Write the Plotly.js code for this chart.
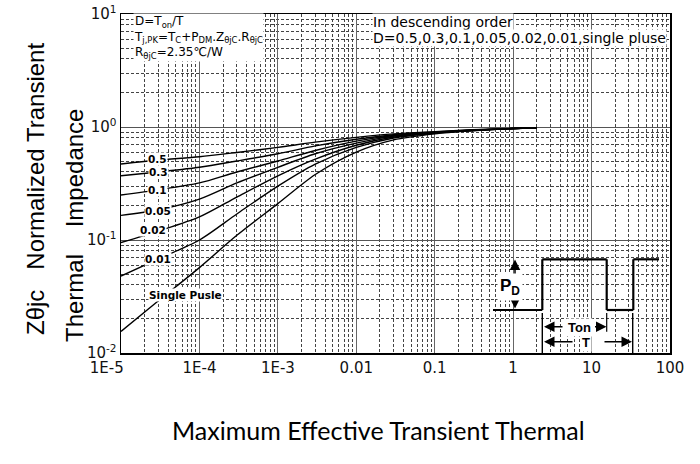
<!DOCTYPE html>
<html><head><meta charset="utf-8">
<script src="https://cdn.plot.ly/plotly-3.0.1.min.js"></script>
<style>html,body{margin:0;padding:0;background:#fff}#chart{width:700px;height:464px}</style>
</head><body><div id="chart"></div>
<script>
// ---- data ----
const pulseTime = [1e-5, 3e-5, 1e-4, 3e-4, 1e-3, 3e-3, 1e-2, 3e-2, 1e-1, 3e-1, 1, 2];
const dutyLabels = ['0.5', '0.3', '0.1', '0.05', '0.02', '0.01', 'Single Pusle'];
const zD050 = [0.47, 0.51, 0.545, 0.595, 0.66, 0.735, 0.81, 0.87, 0.91, 0.945, 0.97, 0.985];
const zD030 = [0.37, 0.40, 0.44, 0.50, 0.58, 0.68, 0.78, 0.855, 0.905, 0.94, 0.97, 0.985];
const zD010 = [0.25, 0.278, 0.32, 0.40, 0.50, 0.62, 0.75, 0.84, 0.895, 0.935, 0.97, 0.985];
const zD005 = [0.165, 0.185, 0.23, 0.32, 0.44, 0.58, 0.72, 0.83, 0.89, 0.935, 0.97, 0.985];
const zD002 = [0.095, 0.12, 0.16, 0.24, 0.37, 0.52, 0.69, 0.815, 0.885, 0.93, 0.97, 0.985];
const zD001 = [0.048, 0.068, 0.10, 0.17, 0.30, 0.47, 0.66, 0.80, 0.88, 0.93, 0.97, 0.985];
const zSingle = [0.0155, 0.029, 0.057, 0.11, 0.21, 0.38, 0.60, 0.77, 0.87, 0.925, 0.97, 0.985];
const xTickVals = [1e-5, 1e-4, 1e-3, 1e-2, 1e-1, 1, 10, 100];
const xTickText = ['1E-5\u00a0\u00a0\u00a0\u00a0\u00a0\u00a0', '1E-4', '1E-3', '0.01', '0.1', '1', '10', '100'];
const yTickVals = [0.01, 0.1, 1, 10];
const yTickText = ['10<sup>-2</sup>', '10<sup>-1</sup>', '10<sup>0</sup>', '10<sup>1</sup>'];

const series = [zD050, zD030, zD010, zD005, zD002, zD001, zSingle];

// label positions in log10 axis units
const labelPos = [[-4.53, -0.286], [-4.524, -0.396], [-4.53, -0.558], [-4.524, -0.741],
                  [-4.588, -0.912], [-4.524, -1.168], [-4.184, -1.487]];

// minor grid positions (2..9 in every decade)
const minorX = [], minorY = [];
for (let e = -5; e < 2; e++) for (let d = 2; d <= 9; d++) minorX.push(d * Math.pow(10, e));
for (let e = -2; e < 1; e++) for (let d = 2; d <= 9; d++) minorY.push(d * Math.pow(10, e));

const traces = series.map((ys, i) => ({
  x: pulseTime, y: ys, type: 'scatter', mode: 'lines',
  line: {color: '#000', width: 1.4, shape: 'spline', smoothing: 0.8},
  hoverinfo: 'skip', showlegend: false
}));

// plot area in pixels: x 121..670, y 14..353
const PX = px => (px - 121) / 549;
const PY = py => (353 - py) / 339;

const annotations = [];
labelPos.forEach((p, i) => annotations.push({
  x: p[0], y: p[1], xref: 'x', yref: 'y', xanchor: 'center', yanchor: 'middle',
  text: dutyLabels[i], showarrow: false,
  font: {family: 'DejaVu Sans, sans-serif', size: 10.5, color: '#000', weight: 'bold'},
  bgcolor: '#fff', borderpad: 0
}));

annotations.push({
  x: PX(133), y: PY(37.5), xref: 'paper', yref: 'paper', xanchor: 'left', yanchor: 'middle', align: 'left',
  text: 'D=T<sub>on</sub>/T<br>T<sub>j,PK</sub>=T<sub>C</sub>+P<sub>DM</sub>.Z<sub>θjC</sub>.R<sub>θjC</sub><br>R<sub>θjC</sub>=2.35℃/W',
  showarrow: false, font: {family: 'DejaVu Sans, sans-serif', size: 12, color: '#000'},
  bgcolor: '#fff', borderpad: 0
});
[['In descending order', 22], ['D=0.5,0.3,0.1,0.05,0.02,0.01,single pluse', 38]].forEach(t => annotations.push({
  x: PX(372), y: PY(t[1]), xref: 'paper', yref: 'paper', xanchor: 'left', yanchor: 'middle',
  text: t[0], showarrow: false, font: {family: 'DejaVu Sans, sans-serif', size: 14, color: '#000'},
  bgcolor: '#fff', borderpad: 0
}));

// pulse diagram arrows and texts
const arrow = (tx, ty, ax, ay, side) => ({
  x: PX(tx), y: PY(ty), xref: 'paper', yref: 'paper', ax: ax, ay: ay, text: '',
  showarrow: true, arrowhead: 2, arrowsize: 1.4, arrowwidth: 1.5, arrowcolor: '#000',
  arrowside: side || 'end'
});
annotations.push(arrow(544, 326.7, 20, 0));
annotations.push(arrow(606.5, 326.7, -13, 0));
annotations.push(arrow(544, 341.7, 30, 0));
annotations.push(arrow(632, 341.7, -29, 0));
annotations.push(arrow(515, 259.5, 0, 50.5, 'end+start'));
const boldFont = s => ({family: 'Liberation Sans, Arial, sans-serif', size: s, color: '#000', weight: 'bold'});
const centered = (px, py, text, font, pad) => ({x: PX(px), y: PY(py), xref: 'paper', yref: 'paper',
  xanchor: 'center', yanchor: 'middle', text: text, showarrow: false, font: font, bgcolor: '#fff', borderpad: pad});
annotations.push(centered(579.5, 327, 'Ton', boldFont(13), 1));
annotations.push(centered(586, 342, 'T', boldFont(13), 1));
annotations.push(centered(510, 287, 'P<sub>D</sub>', boldFont(17), 2));

// axis titles
const titleFont = {family: 'Liberation Sans, Arial, sans-serif', size: 24, color: '#000'};
annotations.push({x: PX(35), y: PY(189), xref: 'paper', yref: 'paper', textangle: -90,
  xanchor: 'center', yanchor: 'middle',
  text: 'Zθjc\u00a0\u00a0\u00a0Normalized Transient', showarrow: false, font: titleFont});
annotations.push({x: PX(75), y: PY(226), xref: 'paper', yref: 'paper', textangle: -90,
  xanchor: 'center', yanchor: 'middle',
  text: 'Thermal\u00a0\u00a0\u00a0\u00a0Impedance', showarrow: false, font: titleFont});
annotations.push({x: PX(378), y: PY(430), xref: 'paper', yref: 'paper', xanchor: 'center', yanchor: 'middle',
  text: 'Maximum Effective Transient Thermal', showarrow: false,
  font: {family: 'Lato, sans-serif', size: 25, color: '#000'}});

const L = (x0, y0, x1, y1, w) => ({type: 'line', xref: 'paper', yref: 'paper',
  x0: PX(x0), y0: PY(y0), x1: PX(x1), y1: PY(y1), line: {color: '#000', width: w}});
const shapes = [
  L(493, 310, 542.3, 310, 2.2), L(542.3, 310, 542.3, 259.3, 2.2), L(542.3, 259.3, 606.7, 259.3, 2.2),
  L(606.7, 259.3, 606.7, 310, 2.2), L(606.7, 310, 633.3, 310, 2.2), L(633.3, 310, 633.3, 259.3, 2.2),
  L(633.3, 259.3, 659, 259.3, 2.2),
  L(542.3, 313, 542.3, 353, 1.4), L(606.7, 313, 606.7, 331.7, 1.2), L(632.7, 313, 632.7, 353, 1.4)
];

const tickFont = {family: 'DejaVu Sans, sans-serif', size: 15, color: '#111'};
const layout = {
  width: 700, height: 464,
  margin: {l: 121, r: 30, t: 14, b: 111},
  paper_bgcolor: '#fff', plot_bgcolor: '#fff',
  xaxis: {type: 'log', range: [-5, 2], tickmode: 'array', tickvals: xTickVals, ticktext: xTickText,
    showgrid: true, gridcolor: '#666', gridwidth: 1, zeroline: false,
    showline: true, mirror: true, linecolor: '#000', linewidth: 1.5, ticks: '', tickfont: tickFont,
    minor: {tickmode: 'array', tickvals: minorX, showgrid: true, gridcolor: '#444', gridwidth: 1,
      griddash: '3px,2px', ticks: ''}},
  yaxis: {type: 'log', range: [-2, 1], tickmode: 'array', tickvals: yTickVals, ticktext: yTickText,
    showgrid: true, gridcolor: '#555', gridwidth: 1, zeroline: false,
    showline: true, mirror: true, linecolor: '#000', linewidth: 1.5, ticks: '', tickfont: tickFont,
    minor: {tickmode: 'array', tickvals: minorY, showgrid: true, gridcolor: '#444', gridwidth: 1,
      griddash: '3px,2px', ticks: ''}},
  annotations: annotations, shapes: shapes, showlegend: false
};
Plotly.newPlot('chart', traces, layout, {displayModeBar: false, staticPlot: true});
</script></body></html>
